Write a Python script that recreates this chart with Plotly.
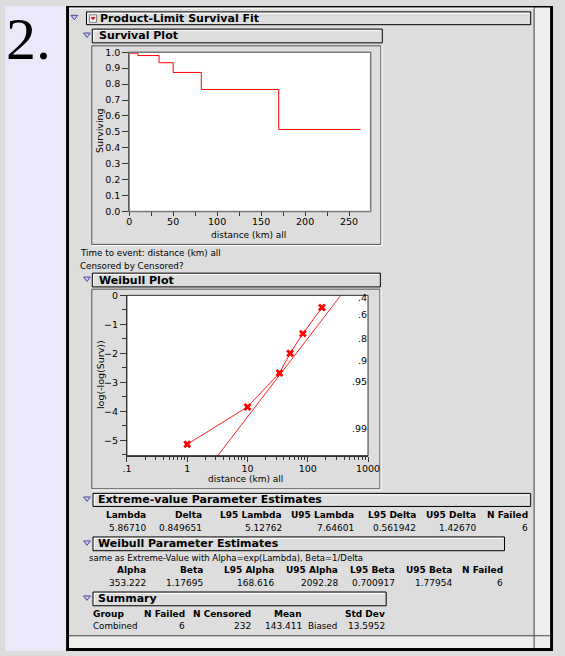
import numpy as np
import plotly.graph_objects as go

W, H = 565, 656

# ---------------- data ----------------
fail_times = [1, 10, 34, 50, 82, 170]
surv_prob = [0.994, 0.979, 0.934, 0.873, 0.766, 0.515]
last_time = 263

weib_x = [1, 10, 34, 51, 83, 172]
weib_y = [-5.14, -3.85, -2.68, -2.00, -1.32, -0.42]

lam, delta = 5.86710, 0.849651
fit_x = [2, 800]

prob_labels = [".4", ".6", ".8", ".9", ".95", ".99"]
prob_vals = [0.4, 0.6, 0.8, 0.9, 0.95, 0.99]

surv_xticks = [0, 50, 100, 150, 200, 250]
surv_yticks = [0.0, 0.1, 0.2, 0.3, 0.4, 0.5, 0.6, 0.7, 0.8, 0.9, 1.0]
weib_xticks = [0.1, 1, 10, 100, 1000]
weib_xticktext = [".1", "1", "10", "100", "1000"]
weib_yticks = [0, -1, -2, -3, -4, -5]

ev_headers = ["Lambda", "Delta", "L95 Lambda", "U95 Lambda", "L95 Delta", "U95 Delta", "N Failed"]
ev_values = ["5.86710", "0.849651", "5.12762", "7.64601", "0.561942", "1.42670", "6"]
wb_headers = ["Alpha", "Beta", "L95 Alpha", "U95 Alpha", "L95 Beta", "U95 Beta", "N Failed"]
wb_values = ["353.222", "1.17695", "168.616", "2092.28", "0.700917", "1.77954", "6"]
sum_headers = ["N Failed", "N Censored", "Mean", "Std Dev"]
sum_values = ["6", "232", "143.411", "13.5952"]

# ---------------- helpers ----------------
def X(px):
    return px / W

def Y(py):
    return 1 - py / H

shapes = []
annotations = []
FONT = "DejaVu Sans"

def rect(x0, y0, x1, y1, line="black", width=1, fill=None, layer="below"):
    d = dict(type="rect", xref="paper", yref="paper",
             x0=X(x0), x1=X(x1), y0=Y(y1), y1=Y(y0),
             line=dict(color=line, width=width), layer=layer)
    if fill is not None:
        d["fillcolor"] = fill
    if width == 0:
        d["line"] = dict(width=0)
    shapes.append(d)

def line(x0, y0, x1, y1, color="black", width=1, layer="below"):
    shapes.append(dict(type="line", xref="paper", yref="paper",
                       x0=X(x0), x1=X(x1), y0=Y(y0), y1=Y(y1),
                       line=dict(color=color, width=width), layer=layer))

def tri(x0, ytop, w=7, h=4.5, fill="#C8C8F8", col="#4848A0"):
    p = "M {},{} L {},{} L {},{} Z".format(
        X(x0), Y(ytop), X(x0 + w), Y(ytop), X(x0 + w / 2), Y(ytop + h))
    shapes.append(dict(type="path", xref="paper", yref="paper", path=p,
                       fillcolor=fill, line=dict(color=col, width=1), layer="above"))

def txt(s, x, y, size=9, bold=False, xanchor="left", yanchor="middle",
        family=FONT, angle=0, color="black"):
    f = dict(family=family, size=size, color=color)
    if bold:
        f["weight"] = "bold"
    annotations.append(dict(text=s, x=X(x), y=Y(y), xref="paper", yref="paper",
                            xanchor=xanchor, yanchor=yanchor, showarrow=False,
                            font=f, textangle=angle, borderpad=0, borderwidth=0))

def header(x0, y0, x1, y1, tri_x):
    rect(x0, y0, x1, y1, line="black", width=1, fill="#DDDDDD")
    line(x0 + 1.5, y0 + 1.5, x1 - 1.5, y0 + 1.5, color="white")
    line(x0 + 1.5, y0 + 1.5, x0 + 1.5, y1 - 1.5, color="white")
    cy = (y0 + y1) / 2
    tri(tri_x, cy - 3)
    return cy

def frame(x0, y0, x1, y1):
    rect(x0, y0, x1, y1, line="#555555", width=1)
    line(x1 + 1.2, y0, x1 + 1.2, y1 + 1.2, color="white")
    line(x0, y1 + 1.2, x1 + 1.2, y1 + 1.2, color="white")

# ---------------- window chrome ----------------
rect(0, 0, 63, 656, width=0, fill="#E9E9FA")
rect(546, 0, 562, 653, width=0, fill="#EEEEEE")
rect(66, 641, 562, 653, width=0, fill="#EEEEEE")
line(545.5, 0, 545.5, 653, color="#444444")
line(66, 640.5, 562, 640.5, color="#444444")
rect(63, 0, 66, 656, width=0, fill="black")
rect(562, 0, 565, 656, width=0, fill="black")
rect(63, 653, 565, 656, width=0, fill="black")
rect(63, 0, 565, 1.5, width=0, fill="black")
line(66, 2.3, 545, 2.3, color="white")

txt("2.", 1, 0, size=60, family="Liberation Serif", yanchor="top")

# ---------------- headers ----------------
cy = header(84, 6, 542, 19, 68)
rect(87, 9, 94.5, 16.5, line="#777777", width=1, fill="white", layer="above")
shapes.append(dict(type="path", xref="paper", yref="paper",
                   path="M {},{} L {},{} L {},{} Z".format(X(88.5), Y(11.5), X(93), Y(11.5), X(90.75), Y(14.3)),
                   fillcolor="#E00000", line=dict(color="#E00000", width=0.5), layer="above"))
txt("Product-Limit Survival Fit", 98, cy, size=11, bold=True)

cy = header(90, 23.5, 389, 37.5, 81)
txt("Survival Plot", 97, cy, size=11, bold=True)

frame(89.5, 40.5, 387.5, 242.5)
rect(128, 47, 377, 209, line="#7A7A7A", width=1.5, layer="above")

txt("Surviving", 98, 127, size=9.5, angle=-90, xanchor="center")
txt("distance (km) all", 251, 233, size=9, xanchor="center")
txt("Time to event: distance (km) all", 77, 251.7, size=8.75)
txt("Censored by Censored?", 77, 264, size=8.75)

cy = header(90, 271.7, 387, 285.7, 81)
txt("Weibull Plot", 97, cy, size=11, bold=True)

frame(89.5, 288, 386.5, 491)
rect(125.7, 294.3, 374.3, 457.3, line="#333333", width=1, layer="above")
txt("log(-log(Surv))", 98.3, 375, size=9.5, angle=-90, xanchor="center")
txt("distance (km) all", 248, 481, size=9, xanchor="center")

cy = header(90.7, 495.7, 542, 509, 81)
txt("Extreme-value Parameter Estimates", 96, cy, size=11, bold=True)
ev_right = [145, 203.5, 286, 360, 423.5, 486, 539.5]
for h, v, r in zip(ev_headers, ev_values, ev_right):
    txt(h, r, 517.7, size=9, bold=True, xanchor="right")
    txt(v, r, 530.7, size=9, xanchor="right")

cy = header(90.7, 540, 515, 554, 81)
txt("Weibull Parameter Estimates", 96, cy, size=11, bold=True)
txt("same as Extreme-Value with Alpha=exp(Lambda), Beta=1/Delta", 87, 561.7, size=8.5)
wb_right = [145, 204, 277.5, 343, 402, 461, 513.5]
for h, v, r in zip(wb_headers, wb_values, wb_right):
    txt(h, r, 573.3, size=9, bold=True, xanchor="right")
    txt(v, r, 586.7, size=9, xanchor="right")

cy = header(90.7, 596, 393, 610, 81)
txt("Summary", 96, cy, size=11, bold=True)
txt("Group", 91, 618, size=9, bold=True)
txt("Combined", 91, 630.3, size=8.75)
sum_right = [186, 253.5, 306.5, 391.5]
for h, v, r in zip(sum_headers, sum_values, sum_right):
    txt(h, r, 618, size=9, bold=True, xanchor="right")
    txt(v, r, 630.3, size=9, xanchor="right")
txt("Biased", 312, 630.3, size=8.75)

# right-hand probability scale of the Weibull plot, placed through the y2 scale
for lab, p in zip(prob_labels, prob_vals):
    annotations.append(dict(text=lab, xref="x2 domain", yref="y2", x=0.996,
                            y=float(np.log(-np.log(p))), xanchor="right", yanchor="middle",
                            showarrow=False, borderpad=0, borderwidth=0,
                            font=dict(family=FONT, size=9.5, color="black")))

# ---------------- traces ----------------
fig = go.Figure()

sx = [0] + fail_times + [last_time]
sy = [1.0] + surv_prob + [surv_prob[-1]]
fig.add_trace(go.Scatter(x=sx, y=sy, mode="lines", line=dict(color="#FF0000", width=1, shape="hv"),
                         xaxis="x", yaxis="y", hoverinfo="skip", showlegend=False))

fig.add_trace(go.Scatter(x=weib_x, y=weib_y, mode="lines+markers",
                         line=dict(color="#FF2020", width=1),
                         marker=dict(symbol="x", size=7, color="#FF0000"),
                         xaxis="x2", yaxis="y2", hoverinfo="skip", showlegend=False, cliponaxis=False))

fit_y = [(np.log(v) - lam) / delta for v in fit_x]
fig.add_trace(go.Scatter(x=fit_x, y=fit_y, mode="lines", line=dict(color="#FF2020", width=1),
                         xaxis="x2", yaxis="y2", hoverinfo="skip", showlegend=False))

# minor tick positions for the log axis
minor_log = []
for dec in [0.1, 1, 10, 100]:
    for k in range(2, 10):
        minor_log.append(dec * k)

tickfont = dict(family=FONT, size=9.5, color="black")
yr = [-5.53, 0]

fig.update_layout(
    width=W, height=H, autosize=False,
    margin=dict(l=0, r=0, t=0, b=0, pad=0),
    paper_bgcolor="#DDDDDD", plot_bgcolor="white",
    showlegend=False,
    shapes=shapes, annotations=annotations,
    xaxis=dict(domain=[X(128), X(377)], range=[0, 274.5], anchor="y",
               tickmode="array", tickvals=surv_xticks, ticks="outside", ticklen=4, tickcolor="#333",
               ticklabelstandoff=-3,
               minor=dict(dtick=25, tick0=0, ticks="outside", ticklen=4, tickcolor="#333"),
               showline=True, linecolor="#333", linewidth=1,
               showgrid=False, zeroline=False, tickfont=tickfont, fixedrange=True),
    yaxis=dict(domain=[Y(209), Y(47)], range=[0, 1], anchor="x",
               tickmode="array", tickvals=surv_yticks, tickformat=".1f",
               ticks="outside", ticklen=6, tickcolor="#333",
               showline=True, linecolor="#333", linewidth=1,
               showgrid=False, zeroline=False, tickfont=tickfont, fixedrange=True),
    xaxis2=dict(domain=[X(125.7), X(374.3)], type="log", range=[-1.0002, 3.0002], anchor="y2",
                tickmode="array", tickvals=weib_xticks, ticktext=weib_xticktext,
                ticks="outside", ticklen=5, tickcolor="#333",
                ticklabelstandoff=-1,
                minor=dict(tickmode="array", tickvals=minor_log, ticks="outside", ticklen=3, tickcolor="#333"),
                showline=True, linecolor="#333", linewidth=1,
                showgrid=False, zeroline=False, tickfont=tickfont, fixedrange=True),
    yaxis2=dict(domain=[Y(457.3), Y(294.3)], range=yr, anchor="x2",
                tickmode="array", tickvals=weib_yticks,
                ticks="outside", ticklen=6, tickcolor="#333",
                minor=dict(dtick=0.5, tick0=0, ticks="outside", ticklen=4, tickcolor="#333"),
                showline=True, linecolor="#333", linewidth=1,
                showgrid=False, zeroline=False, tickfont=tickfont, fixedrange=True),
)

fig.write_html("out.html")
